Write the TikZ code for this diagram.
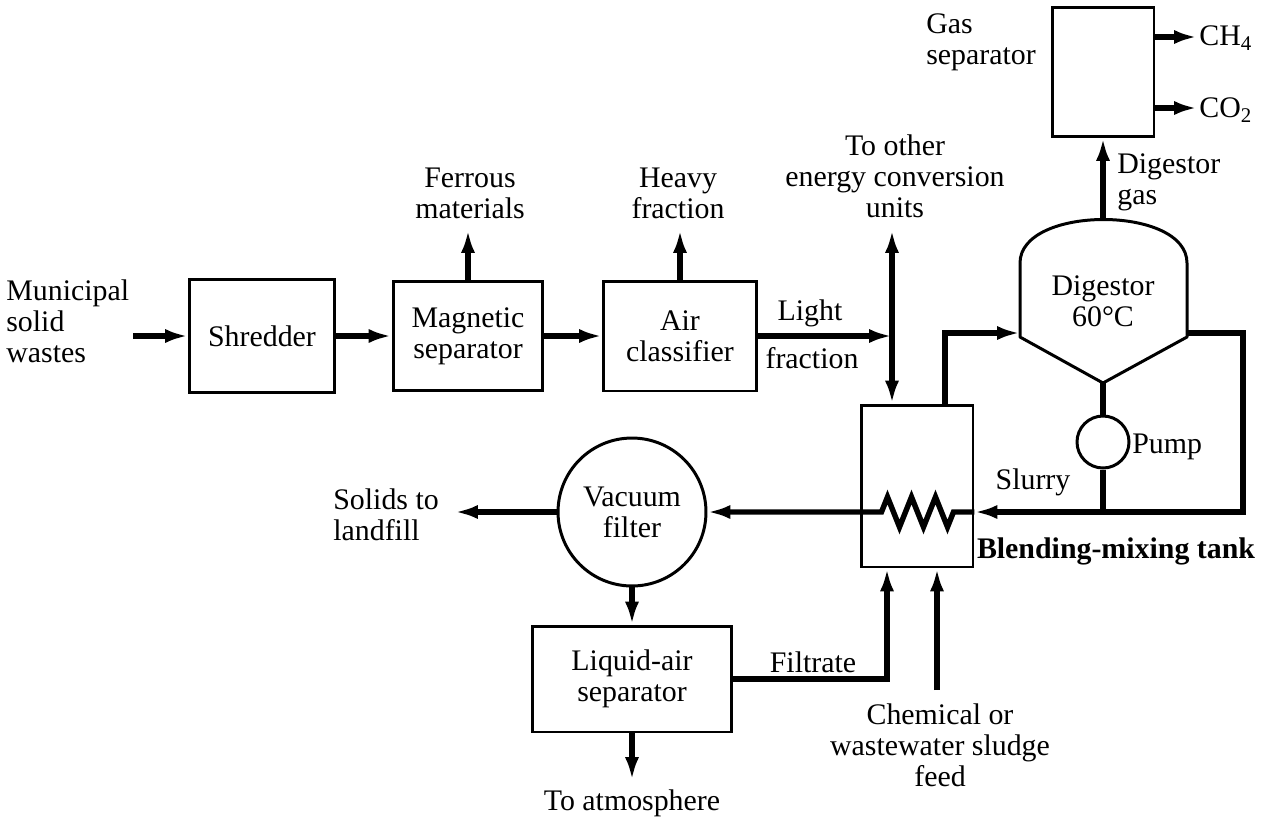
\documentclass[tikz,border=0pt]{standalone}
\usepackage{fontspec}
\setmainfont{Liberation Serif}
\usepackage{tikz}
\usetikzlibrary{arrows.meta,positioning,calc}
\newcommand{\diagfont}{\fontsize{17}{17.6}\selectfont}

\begin{document}
\begin{tikzpicture}[
    x=0.02cm, y=-0.02cm,
    unit/.style={rectangle, draw, line width=1.7pt, font=\diagfont,
                 align=center, inner sep=0pt},
    ring/.style={circle, draw, line width=1.7pt, font=\diagfont,
                 align=center, inner sep=0pt},
    flow/.style={line width=3.1pt, -{Latex[length=13pt,width=8pt]}},
    pipe/.style={line width=3.1pt},
    lbl/.style={font=\diagfont, align=center, inner sep=0pt},
]
\useasboundingbox (0,0) rectangle (1261,816);

\node[unit, minimum width=2.9cm, minimum height=2.26cm] (shred) at (262,336) {Shredder};
\node[unit, minimum width=3cm, minimum height=2.18cm] (mag) at (468,336) {Magnetic\\separator};
\node[unit, minimum width=3.06cm, minimum height=2.2cm] (air) at (680,336) {Air\\classifier};
\node[unit, minimum width=2.24cm, minimum height=3.24cm] (tank) at (917,486) {};
\node[unit, minimum width=4cm, minimum height=2.12cm] (las) at (632,679) {Liquid-air\\separator};
\node[unit, minimum width=2.04cm, minimum height=2.58cm] (gas) at (1103,72) {};
\node[ring, minimum size=2.96cm] (vac) at (632,512) {Vacuum\\filter};
\node[ring, minimum size=1.04cm] (pump) at (1103,442) {};

\node[lbl, anchor=west, align=left] (msw) at (6,321) {Municipal\\solid\\wastes};
\coordinate (msw-out) at (133,336);
\draw[flow] (msw-out) -- (shred);
\draw[flow] (shred) -- (mag);
\draw[flow] (mag) -- (air);

\node[lbl] (ferrous) at (470,193) {Ferrous\\materials};
\coordinate (ferr-end) at (468,230);
\draw[flow] (mag) -- (ferr-end);
\node[lbl] (heavy) at (678,193) {Heavy\\fraction};
\coordinate (heavy-end) at (680,230);
\draw[flow] (air) -- (heavy-end);

\coordinate (split) at (892,336);
\draw[flow] (air) -- (split);
\node[lbl] (light) at (810,313) {Light};
\node[lbl] (frac) at (812,358) {fraction};
\node[lbl] (other) at (895,176) {To other\\energy conversion\\units};
\coordinate (other-end) at (892,230);
\draw[flow] (split) -- (other-end);
\draw[flow] (split) -- (split |- tank.north);

\coordinate (dig-n) at (1103,219);
\coordinate (dig-s) at (1103,383);
\coordinate (dig-w) at (1020,333);
\coordinate (dig-e) at (1187,333);
\draw[line width=1.7pt, line join=round] (1020,337) -- (1020,263)
    .. controls (1020,205) and (1187,205) .. (1187,263) -- (1187,337) -- (dig-s) -- cycle;
\node[lbl] (digtext) at (1103,301) {Digestor\\60°C};

\draw[flow] ([xshift=0.56cm]tank.north) |- (dig-w);
\coordinate (ret) at (1243,512);
\draw[flow] (dig-e) -| (ret) -- (tank.east |- ret);
\draw[pipe] (dig-s) -- (pump);
\draw[pipe] (pump) -- (pump |- ret);
\node[lbl, anchor=west] (pumplbl) at (1132,447) {Pump};
\node[lbl] (slurry) at (1033,482) {Slurry};
\node[lbl, font=\diagfont\bfseries] (blend) at (1116,551) {Blending-mixing tank};

\draw[flow, line join=miter] (tank.east |- ret) -- ++(-21,0) -- ++(-6,15) -- ++(-12,-30)
    -- ++(-12,30) -- ++(-12,-30) -- ++(-12,30) -- ++(-12,-30) -- ++(-6,15) -- (vac);

\coordinate (solids-end) at (455,512);
\draw[flow] (vac) -- (solids-end);
\node[lbl, anchor=west, align=left] (solids) at (333,515) {Solids to\\landfill};
\draw[flow] (vac) -- (las);
\coordinate (atm-end) at (632,780);
\draw[flow] (las) -- (atm-end);
\node[lbl] (atm) at (632,803) {To atmosphere};

\draw[flow] (las) -| ([xshift=-0.6cm]tank.south);
\node[lbl] (filtrate) at (813,662) {Filtrate};
\coordinate (feed-in) at (937,690);
\draw[flow] (feed-in) -- (feed-in |- tank.south);
\node[lbl] (feed) at (940,745) {Chemical or\\wastewater sludge\\feed};

\draw[flow] (dig-n) -- (gas);
\node[lbl, anchor=west, align=left] (diggas) at (1117,182) {Digestor\\gas};
\coordinate (ch4-end) at (1197,37);
\coordinate (co2-end) at (1197,108);
\draw[flow] (gas.east |- ch4-end) -- (ch4-end);
\draw[flow] (gas.east |- co2-end) -- (co2-end);
\node[lbl, anchor=west] (ch4) at (1199,38) {CH\textsubscript{4}};
\node[lbl, anchor=west] (co2) at (1199,110) {CO\textsubscript{2}};
\node[lbl, anchor=west, align=left] (gassep) at (926,42) {Gas\\separator};

\end{tikzpicture}
\end{document}
